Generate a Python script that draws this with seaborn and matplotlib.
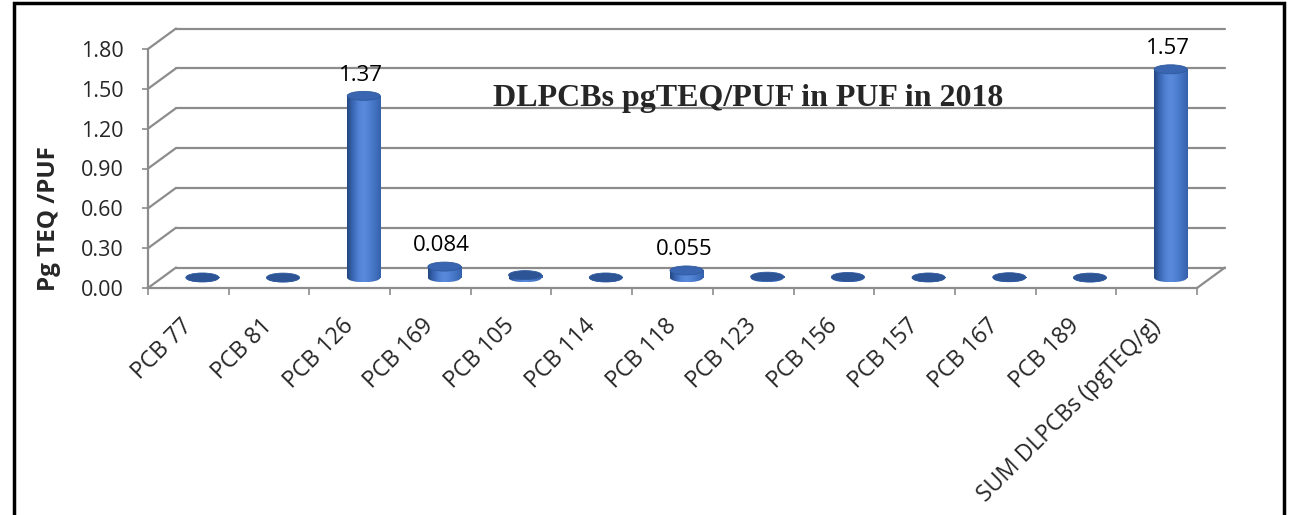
import numpy as np
import pandas as pd
import matplotlib
matplotlib.use("Agg")
import matplotlib.pyplot as plt
import seaborn as sns
from matplotlib.patches import Ellipse, Rectangle
from matplotlib.transforms import ScaledTranslation, IdentityTransform
from matplotlib.colors import LinearSegmentedColormap

# ---------------- data ----------------
categories = ["PCB 77", "PCB 81", "PCB 126", "PCB 169", "PCB 105", "PCB 114",
              "PCB 118", "PCB 123", "PCB 156", "PCB 157", "PCB 167", "PCB 189",
              "SUM DLPCBs (pgTEQ/g)"]
values = [0.002, 0.001, 1.37, 0.084, 0.02, 0.002, 0.055, 0.008, 0.006,
          0.002, 0.004, 0.001, 1.57]
value_labels = ["", "", "1.37", "0.084", "", "", "0.055", "", "", "", "", "", "1.57"]
y_ticks = [0.0, 0.3, 0.6, 0.9, 1.2, 1.5, 1.8]
y_tick_labels = ["0.00", "0.30", "0.60", "0.90", "1.20", "1.50", "1.80"]
title = "DLPCBs pgTEQ/PUF in PUF in 2018"
y_label = "Pg TEQ /PUF"

# ---------------- style ----------------
sns.set_theme(style="white")
plt.rcParams['font.family'] = ['Open Sans', 'DejaVu Sans']

W, H, DPI = 1291, 515, 100
GRID = "#8c8c8c"
fig = plt.figure(figsize=(W / DPI, H / DPI), dpi=DPI)
fig.patch.set_facecolor("white")

ax_left, ax_right, ax_top, ax_bottom = 148, 1197, 49, 288
ax = fig.add_axes([ax_left / W, (H - ax_bottom) / H,
                   (ax_right - ax_left) / W, (ax_bottom - ax_top) / H])
ax.set_facecolor("none")

df = pd.DataFrame({"category": categories, "value": values})
sns.barplot(data=df, x="category", y="value", width=0.41, color="#4472C4",
            saturation=1, ax=ax, zorder=3)
ax.set_xlim(-0.5, len(categories) - 0.5)
ax.set_ylim(y_ticks[0], y_ticks[-1])

# 3-D depth offsets (pixels)
DX, DY = 28, 20.5
full = ax.transData + ScaledTranslation(DX / DPI, DY / DPI, fig.dpi_scale_trans)
half = ax.transData + ScaledTranslation(DX / 2 / DPI, DY / 2 / DPI, fig.dpi_scale_trans)

x0l, x1l = ax.get_xlim()
# back wall gridlines + left side diagonals
for v in y_ticks:
    ax.plot([x0l, x1l], [v, v], transform=full, color=GRID, lw=1.6,
            clip_on=False, zorder=0)
    p = ax.transData.transform((x0l, v))
    ax.plot([p[0], p[0] + DX], [p[1], p[1] + DY], transform=IdentityTransform(),
            color=GRID, lw=1.6, clip_on=False, zorder=0)
# right floor diagonal
p = ax.transData.transform((x1l, y_ticks[0]))
ax.plot([p[0], p[0] + DX], [p[1], p[1] + DY], transform=IdentityTransform(),
        color=GRID, lw=1.6, clip_on=False, zorder=0)

# ---------------- cylinders ----------------
cmap = LinearSegmentedColormap.from_list(
    "cyl", ["#23467f", "#3a66b3", "#4f80d2", "#5a8bdb", "#4e7fd0", "#4271c0", "#3561ab"])
grad = np.linspace(0, 1, 256).reshape(1, -1)
px_per_unit = (ax_bottom - ax_top) / (y_ticks[-1] - y_ticks[0])
eh = 9 / px_per_unit  # ellipse height in data units

for patch, v in zip(list(ax.patches), values):
    x0, w = patch.get_x(), patch.get_width()
    xc = x0 + w / 2
    patch.set_visible(False)
    # body
    ax.imshow(grad, extent=[x0, x0 + w, 0, v], aspect="auto", cmap=cmap,
              transform=half, zorder=3, interpolation="bilinear", clip_on=False)
    # rounded bottom
    bot = Ellipse((xc, 0), w, eh, transform=half, fc="none", ec="none")
    ax.add_patch(bot)
    im = ax.imshow(grad, extent=[x0, x0 + w, -eh / 2, 0], aspect="auto", cmap=cmap,
                   transform=half, zorder=3, interpolation="bilinear")
    im.set_clip_path(bot)
    # top cap
    cap_col = "#3a66b1" if v > 0.03 else "#2d5596"
    ax.add_patch(Ellipse((xc, v), w, eh, transform=half, fc=cap_col,
                         ec="#2f5a9f", lw=0.6, zorder=4, clip_on=False))

ax.set_xlim(x0l, x1l)
ax.set_ylim(y_ticks[0], y_ticks[-1])

# value labels
for patch, v, lab in zip(ax.patches, values, value_labels):
    if lab:
        xc = patch.get_x() + patch.get_width() / 2
        ax.annotate(lab, xy=(xc, v), xycoords=half, xytext=(-2, 11),
                    textcoords="offset points", ha="center", va="baseline",
                    fontsize=16, color="black", zorder=6)

# ---------------- axes / ticks ----------------
for s in ["top", "right"]:
    ax.spines[s].set_visible(False)
for s in ["left", "bottom"]:
    ax.spines[s].set_color(GRID)
    ax.spines[s].set_linewidth(1.6)
    ax.spines[s].set_zorder(1)

ax.set_yticks(y_ticks)
ax.set_yticklabels(y_tick_labels, fontsize=15.5)
ax.tick_params(axis="y", which="major", direction="out", length=4.5, width=1.2,
               color=GRID, pad=13, left=True)
ax.set_xticks(range(len(categories)))
ax.set_xticklabels(categories, rotation=45, ha="right", va="center",
                   rotation_mode="anchor", fontsize=16.5)
ax.tick_params(axis="x", which="major", length=0, pad=25)
ax.set_xticks(np.arange(-0.5, len(categories), 1.0), minor=True)
ax.tick_params(axis="x", which="minor", direction="out", length=5, width=1.2,
               color=GRID, bottom=True)
ax.set_xlabel("")
ax.set_ylabel(y_label, fontsize=17.5, fontweight="bold")
ax.yaxis.label.set_va("baseline")
ax.yaxis.set_label_coords((55 - ax_left) / (ax_right - ax_left),
                          (ax_bottom - 219) / (ax_bottom - ax_top))

# title inside plot
fig.text(493 / W, 1 - 106 / H, title, ha="left", va="baseline",
         fontsize=23, fontweight="bold", family=["Liberation Serif", "DejaVu Serif"])

# outer black frame
fig.patches.append(Rectangle((14, -10), 1270, 522, transform=IdentityTransform(),
                             fill=False, ec="black", lw=2.5, figure=fig))

fig.savefig("out.png", dpi=DPI)
